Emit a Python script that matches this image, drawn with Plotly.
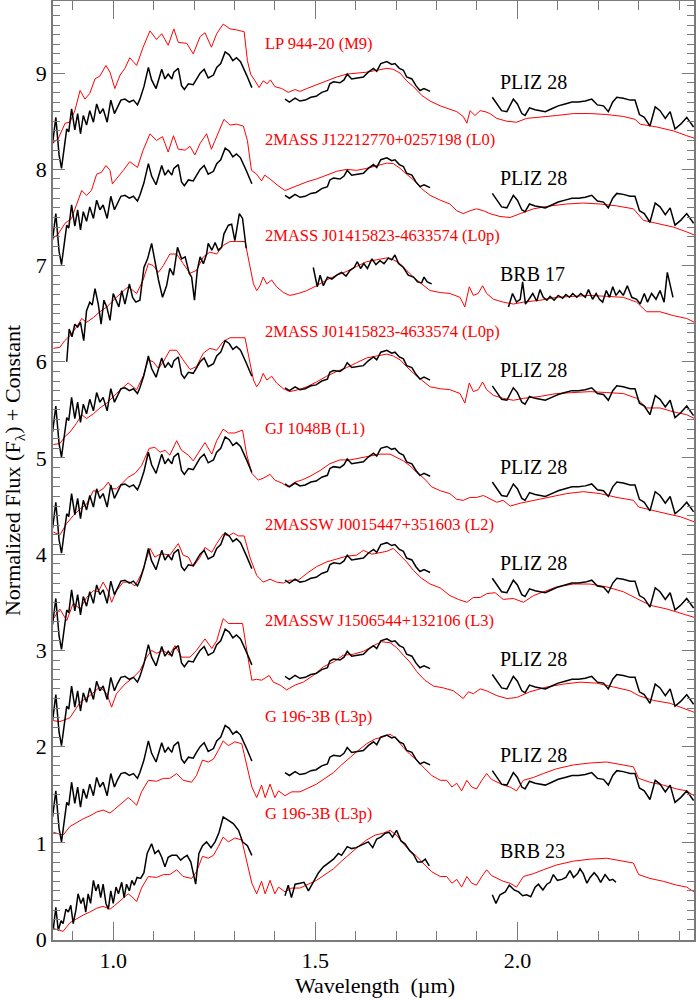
import plotly.graph_objects as go

# Template spectra (normalised flux, before the constant offset)

# --- black: observed objects (J, H, K segments) ---
PLIZ28_J_WL = [.850, .858, .866, .872, .878, .885, .890, .897, .905, .912, .919, .926, .934, .942, .951, .959,
               .967, .975, .985, .994, 1.003, 1.010, 1.019, 1.029, 1.040, 1.050, 1.060, 1.066, 1.076, 1.087,
               1.095, 1.106, 1.120, 1.128, 1.136, 1.145, 1.150, 1.161, 1.169, 1.176, 1.186, 1.198, 1.206,
               1.215, 1.225, 1.235, 1.248, 1.256, 1.266, 1.277, 1.287, 1.296, 1.305, 1.315, 1.330, 1.343]
PLIZ28_J_FL = [.27, .54, .15, .01, .20, .42, .39, .63, .41, .58, .37, .56, .46, .61, .49, .68,
               .58, .63, .49, .72, .58, .65, .72, .73, .70, .72, .67, .73, .86, 1.06,
               .93, .84, 1.04, .94, .99, .94, 1.01, 1.05, .87, .83, .89, .88, .94,
               1.00, 1.04, .95, .98, 1.06, 1.10, 1.22, 1.19, 1.13, 1.16, 1.12, .98, .85]
PLIZ28_H_WL = [1.425, 1.436, 1.450, 1.462, 1.475, 1.489, 1.502, 1.516, 1.530, 1.536, 1.545, 1.561, 1.571,
               1.579, 1.590, 1.604, 1.619, 1.631, 1.644, 1.652, 1.662, 1.677, 1.689, 1.697, 1.708, 1.718,
               1.726, 1.739, 1.749, 1.759, 1.769, 1.784]
PLIZ28_H_FL = [.73, .70, .74, .71, .72, .75, .76, .80, .82, .89, .91, .90, .93,
               .99, .94, .95, .96, 1.01, 1.05, 1.02, 1.10, 1.12, 1.09, 1.10, 1.05, 1.03,
               .96, .94, .87, .82, .84, .81]
PLIZ28_K_WL = [1.938, 1.949, 1.961, 1.974, 1.980, 1.990, 2.000, 2.011, 2.019, 2.030, 2.044, 2.056, 2.069,
               2.085, 2.101, 2.118, 2.135, 2.151, 2.168, 2.184, 2.198, 2.213, 2.225, 2.236, 2.246, 2.262,
               2.279, 2.291, 2.302, 2.314, 2.328, 2.341, 2.353, 2.366, 2.378, 2.390, 2.404, 2.419, 2.436]
PLIZ28_K_FL = [.75, .68, .61, .60, .65, .73, .68, .58, .56, .64, .62, .61, .60,
               .63, .66, .68, .70, .70, .71, .73, .67, .66, .60, .70, .75, .74,
               .72, .72, .57, .54, .45, .65, .61, .53, .60, .42, .47, .54, .44]

BRB17_J_WL = [.885, .891, .898, .905, .912, .919, .927, .934, .942, .948, .955, .963, .970, .977, .984, .992,
              1.000, 1.007, 1.014, 1.021, 1.029, 1.040, 1.048, 1.056, 1.066, 1.076, 1.085, 1.095, 1.103,
              1.112, 1.122, 1.132, 1.140, 1.149, 1.159, 1.169, 1.178, 1.188, 1.194, 1.201, 1.208, 1.215,
              1.223, 1.231, 1.235, 1.244, 1.252, 1.260, 1.268, 1.274, 1.285, 1.293, 1.301, 1.312, 1.320, 1.329]
BRB17_J_FL = [.00, .34, .26, .39, .36, .41, .22, .53, .62, .59, .76, .60, .39, .64, .57, .43,
              .71, .64, .57, .74, .60, .81, .67, .62, .64, .98, 1.07, 1.23, 1.05,
              .85, .67, .79, .97, .90, 1.19, 1.07, 1.09, .92, .88, .64, .95, 1.09,
              1.02, 1.12, 1.23, 1.16, 1.24, 1.16, 1.19, 1.33, 1.42, 1.43, 1.26, 1.54, 1.49, 1.18]
BRB17_H_WL = [1.495, 1.505, 1.512, 1.520, 1.530, 1.541, 1.553, 1.565, 1.576, 1.586, 1.596, 1.604, 1.612,
              1.620, 1.629, 1.640, 1.650, 1.660, 1.670, 1.681, 1.689, 1.697, 1.706, 1.718, 1.730, 1.743,
              1.753, 1.763, 1.769, 1.777, 1.788]
BRB17_H_FL = [.98, .78, .90, .79, .88, .86, .90, .93, .89, .95, .98, 1.04, .97,
              1.02, .97, 1.07, 1.01, 1.05, 1.02, 1.08, 1.06, 1.11, 1.02, .98, .90, .88,
              .83, .82, .88, .83, .81]
BRB17_K_WL = [1.978, 1.988, 1.998, 2.007, 2.013, 2.020, 2.027, 2.038, 2.048, 2.056, 2.064, 2.073, 2.081,
              2.091, 2.101, 2.112, 2.120, 2.129, 2.137, 2.147, 2.157, 2.168, 2.176, 2.186, 2.195, 2.203,
              2.211, 2.220, 2.228, 2.236, 2.244, 2.253, 2.262, 2.272, 2.283, 2.295, 2.304, 2.314, 2.322,
              2.332, 2.343, 2.353, 2.363, 2.371, 2.385]
BRB17_K_FL = [.57, .71, .62, .65, .83, .60, .64, .71, .63, .75, .67, .64, .68,
              .64, .69, .66, .70, .67, .71, .67, .71, .67, .75, .65, .71, .65,
              .62, .74, .67, .78, .69, .74, .69, .79, .67, .65, .60, .71, .62,
              .71, .65, .74, .62, .93, .67]

BRB23_J_WL = [.852, .858, .864, .871, .876, .883, .889, .895, .901, .908, .913, .920, .926, .932, .938, .944,
              .951, .957, .963, .969, .975, .982, .988, .994, 1.000, 1.007, 1.013, 1.021, 1.027, 1.033,
              1.040, 1.046, 1.052, 1.059, 1.068, 1.076, 1.084, 1.095, 1.103, 1.112, 1.120, 1.128, 1.136,
              1.145, 1.157, 1.167, 1.175, 1.183, 1.192, 1.200, 1.204, 1.212, 1.221, 1.231, 1.242, 1.252,
              1.262, 1.272, 1.285, 1.297, 1.310, 1.320, 1.332, 1.343]
BRB23_J_FL = [.11, .33, .09, .19, .16, .31, .28, .35, .16, .31, .47, .37, .43, .28, .47, .37,
              .61, .50, .57, .43, .57, .37, .31, .50, .37, .54, .47, .59, .43, .57,
              .50, .61, .56, .64, .63, .69, .89, .99, .89, .92, .85, .75, .85,
              .87, .87, .82, .85, .87, .80, .66, .57, .89, .97, 1.01, .95, 1.01,
              1.11, 1.27, 1.23, 1.20, 1.13, 1.01, .97, .87]
BRB23_H_WL = [1.425, 1.433, 1.441, 1.450, 1.462, 1.472, 1.483, 1.495, 1.508, 1.520, 1.532, 1.545, 1.557,
              1.565, 1.579, 1.590, 1.601, 1.611, 1.621, 1.631, 1.642, 1.652, 1.662, 1.673, 1.683, 1.691,
              1.701, 1.712, 1.722, 1.733, 1.743, 1.753, 1.763, 1.772, 1.782]
BRB23_H_FL = [.45, .56, .43, .57, .58, .59, .50, .59, .69, .75, .79, .83, .89,
              .87, .96, .94, .95, .97, .99, 1.01, .95, 1.04, 1.06, 1.10, 1.11, 1.06,
              1.13, 1.02, .99, .92, .88, .80, .80, .83, .76]
BRB23_K_WL = [1.938, 1.947, 1.957, 1.970, 1.980, 1.992, 2.003, 2.013, 2.023, 2.033, 2.044, 2.052, 2.063,
              2.073, 2.081, 2.089, 2.099, 2.110, 2.120, 2.130, 2.139, 2.149, 2.155, 2.163, 2.172, 2.180,
              2.190, 2.198, 2.206, 2.217, 2.228, 2.236, 2.244]
BRB23_K_FL = [.46, .37, .46, .49, .56, .51, .49, .45, .46, .44, .54, .57, .51,
              .57, .59, .67, .61, .62, .64, .71, .64, .68, .73, .68, .58, .64,
              .69, .65, .59, .67, .61, .62, .59]

# --- red: spectral standards ---
M9_WL = [.850, .864, .881, .893, .905, .918, .930, .942, .955, .967, .982, .992, 1.004, 1.017, 1.029, 1.041,
         1.058, 1.074, 1.091, 1.107, 1.120, 1.136, 1.150, 1.161, 1.182, 1.198, 1.215, 1.227, 1.243, 1.256,
         1.272, 1.289, 1.305, 1.324, 1.332, 1.340, 1.351, 1.361, 1.371, 1.381, 1.389, 1.400, 1.417, 1.433,
         1.450, 1.462, 1.479, 1.503, 1.528, 1.553, 1.578, 1.602, 1.627, 1.652, 1.677, 1.693, 1.710, 1.726,
         1.743, 1.763, 1.784, 1.809, 1.833, 1.850, 1.866, 1.875, 1.883, 1.895, 1.908, 1.920, 1.932, 1.949,
         1.974, 1.998, 2.023, 2.056, 2.097, 2.139, 2.180, 2.221, 2.262, 2.291, 2.304, 2.345, 2.386, 2.419, 2.448]
M9_FL = [.27, .32, .48, .49, .61, .82, .73, .79, .94, .97, 1.08, 1.01, .84, .98, 1.05, 1.16,
         1.08, 1.27, 1.44, 1.35, 1.41, 1.29, 1.46, 1.32, 1.31, 1.20, 1.38, 1.42, 1.27, 1.41,
         1.51, 1.46, 1.45, 1.43, 1.13, .99, .92, .85, .92, .89, .93, .86, .84, .80,
         .83, .81, .84, .88, .92, .96, .99, 1.00, 1.01, 1.03, 1.05, 1.04, 1.00, .92,
         .86, .77, .71, .66, .62, .60, .55, .48, .61, .56, .61, .60, .58, .53,
         .50, .49, .53, .54, .56, .58, .58, .57, .55, .52, .47, .44, .40, .35, .31]

L0_WL = [.850, .864, .881, .897, .909, .922, .934, .946, .959, .971, .982, .992, .998, 1.008, 1.025, 1.041,
         1.060, 1.074, 1.091, 1.107, 1.122, 1.136, 1.149, 1.161, 1.178, 1.190, 1.202, 1.215, 1.231, 1.243,
         1.256, 1.274, 1.289, 1.305, 1.322, 1.332, 1.342, 1.355, 1.367, 1.375, 1.388, 1.396, 1.408, 1.425,
         1.437, 1.458, 1.479, 1.503, 1.528, 1.553, 1.578, 1.602, 1.627, 1.652, 1.677, 1.693, 1.710, 1.726,
         1.743, 1.763, 1.784, 1.809, 1.833, 1.850, 1.866, 1.883, 1.899, 1.916, 1.932, 1.957, 1.982, 2.007,
         2.040, 2.081, 2.122, 2.163, 2.205, 2.246, 2.287, 2.312, 2.345, 2.386, 2.419, 2.448]
L0_FL = [.28, .33, .44, .49, .63, .78, .73, .78, .95, .97, 1.04, .99, .85, .90, .99, 1.08,
         1.02, 1.20, 1.37, 1.30, 1.34, 1.18, 1.35, 1.21, 1.20, 1.24, 1.15, 1.27, 1.37, 1.21,
         1.34, 1.52, 1.46, 1.47, 1.45, 1.30, .99, .95, .88, .94, .90, .87, .83, .78,
         .80, .83, .87, .90, .94, .98, 1.00, .99, 1.01, 1.04, 1.065, 1.06, 1.01, .95,
         .89, .80, .73, .68, .64, .57, .54, .57, .59, .57, .54, .51, .50, .54,
         .59, .62, .64, .65, .64, .62, .59, .47, .44, .40, .35, .30]

L0P_WL = [.852, .868, .880, .893, .909, .922, .934, .951, .967, .984, 1.008, 1.037, 1.058, 1.074, 1.087,
          1.099, 1.112, 1.124, 1.140, 1.157, 1.173, 1.190, 1.206, 1.223, 1.239, 1.256, 1.272, 1.289, 1.305,
          1.326, 1.337, 1.347, 1.355, 1.363, 1.371, 1.380, 1.392, 1.404, 1.421, 1.437, 1.458, 1.479, 1.503,
          1.528, 1.553, 1.578, 1.602, 1.627, 1.652, 1.677, 1.693, 1.710, 1.726, 1.743, 1.763, 1.784, 1.809,
          1.833, 1.858, 1.870, 1.881, 1.891, 1.903, 1.914, 1.924, 1.941, 1.965, 1.990, 2.015, 2.056, 2.097,
          2.139, 2.180, 2.221, 2.262, 2.295, 2.320, 2.353, 2.386, 2.419, 2.448]
L0P_FL = [.14, .15, .22, .27, .36, .45, .41, .46, .52, .57, .67, .78, .71, .85, 1.02,
          1.00, .93, 1.00, 1.12, 1.12, 1.02, .92, .95, 1.09, 1.14, 1.12, 1.21, 1.25, 1.25,
          1.25, 1.02, .81, .74, .79, .88, .81, .85, .78, .72, .69, .71, .74, .79,
          .85, .90, .94, .99, 1.04, 1.06, 1.08, 1.06, 1.02, .95, .88, .81, .74, .72,
          .71, .67, .57, .78, .69, .71, .79, .71, .65, .62, .60, .62, .64, .67,
          .68, .69, .68, .67, .62, .52, .52, .48, .45, .39]

L1_WL = [.852, .868, .885, .901, .918, .934, .951, .963, .975, .988, .996, 1.008, 1.021, 1.037, 1.054,
         1.070, 1.089, 1.103, 1.116, 1.128, 1.140, 1.157, 1.169, 1.186, 1.198, 1.211, 1.227, 1.244, 1.256,
         1.272, 1.285, 1.301, 1.320, 1.330, 1.343, 1.359, 1.371, 1.388, 1.400, 1.417, 1.433, 1.450, 1.466,
         1.487, 1.512, 1.536, 1.561, 1.586, 1.611, 1.635, 1.660, 1.685, 1.701, 1.718, 1.734, 1.751, 1.771,
         1.788, 1.809, 1.833, 1.850, 1.866, 1.883, 1.899, 1.916, 1.932, 1.949, 1.965, 1.982, 2.007, 2.040,
         2.081, 2.122, 2.163, 2.205, 2.246, 2.287, 2.300, 2.328, 2.370, 2.403, 2.448]
L1_FL = [.23, .20, .32, .40, .47, .52, .66, .65, .68, .75, .68, .68, .73, .80, .84,
         .92, 1.10, 1.11, 1.06, 1.08, 1.03, 1.18, 1.08, 1.03, .97, 1.06, 1.16, 1.04, 1.18,
         1.30, 1.26, 1.26, 1.29, 1.04, .84, .77, .79, .83, .77, .74, .70, .75, .77,
         .81, .87, .94, .98, .98, 1.00, 1.02, 1.04, 1.04, 1.01, .97, .92, .85, .78,
         .70, .66, .63, .57, .56, .59, .59, .61, .58, .54, .56, .50, .53, .56,
         .59, .63, .65, .63, .59, .56, .49, .46, .42, .39, .32]

L2_WL = [.852, .868, .885, .901, .918, .934, .951, .963, .975, .988, .996, 1.008, 1.025, 1.041, 1.054,
         1.070, 1.091, 1.103, 1.116, 1.128, 1.140, 1.161, 1.173, 1.186, 1.198, 1.215, 1.227, 1.244, 1.256,
         1.272, 1.285, 1.297, 1.310, 1.324, 1.338, 1.355, 1.371, 1.388, 1.404, 1.421, 1.437, 1.458, 1.479,
         1.503, 1.528, 1.553, 1.578, 1.602, 1.619, 1.640, 1.660, 1.677, 1.693, 1.710, 1.726, 1.743, 1.763,
         1.784, 1.809, 1.833, 1.854, 1.875, 1.891, 1.908, 1.924, 1.945, 1.965, 1.990, 2.015, 2.040, 2.064,
         2.097, 2.139, 2.180, 2.221, 2.262, 2.295, 2.328, 2.370, 2.411, 2.448]
L2_FL = [.33, .43, .31, .49, .43, .55, .62, .61, .71, .61, .50, .62, .71, .71, .67,
         .80, 1.06, .97, 1.00, 1.00, .99, 1.11, .99, .97, .87, .97, 1.07, 1.02, 1.11,
         1.21, 1.19, 1.22, 1.19, 1.19, .97, .78, .71, .74, .71, .70, .73, .73, .80,
         .87, .92, .95, .98, .99, 1.04, 1.00, 1.02, 1.03, 1.06, .99, .92, .83, .75,
         .69, .65, .57, .53, .50, .55, .55, .59, .60, .53, .54, .50, .57, .61,
         .66, .69, .69, .66, .61, .54, .47, .43, .38, .33]

L3_WL = [.852, .868, .893, .918, .942, .967, .984, .996, 1.008, 1.029, 1.050, 1.066, 1.083, 1.095, 1.107,
         1.124, 1.139, 1.153, 1.169, 1.190, 1.206, 1.227, 1.244, 1.256, 1.272, 1.285, 1.301, 1.320, 1.332,
         1.343, 1.355, 1.367, 1.386, 1.396, 1.413, 1.429, 1.450, 1.470, 1.495, 1.520, 1.545, 1.569, 1.594,
         1.619, 1.644, 1.664, 1.685, 1.701, 1.718, 1.734, 1.751, 1.771, 1.792, 1.817, 1.842, 1.858, 1.866,
         1.879, 1.891, 1.908, 1.924, 1.949, 1.974, 1.998, 2.031, 2.073, 2.114, 2.155, 2.196, 2.238, 2.279,
         2.300, 2.337, 2.378, 2.419, 2.448]
L3_FL = [.27, .26, .30, .46, .53, .62, .55, .41, .55, .65, .72, .79, .93, 1.00, .97,
         1.00, .95, 1.05, .93, .93, 1.00, 1.12, 1.02, 1.10, 1.33, 1.28, 1.28, 1.28, .96,
         .69, .70, .69, .74, .67, .64, .59, .64, .67, .74, .83, .88, .95, .96,
         .99, 1.05, 1.09, 1.08, 1.03, .95, .88, .78, .69, .63, .61, .58, .53, .50,
         .57, .55, .60, .58, .53, .50, .51, .57, .62, .65, .67, .66, .62, .58,
         .53, .48, .45, .39, .34]

L3P_WL = [.852, .876, .893, .909, .926, .942, .959, .975, .992, 1.004, 1.021, 1.037, 1.046, 1.058, 1.070,
          1.087, 1.107, 1.124, 1.140, 1.157, 1.173, 1.194, 1.206, 1.221, 1.235, 1.248, 1.260, 1.272, 1.285,
          1.301, 1.318, 1.330, 1.343, 1.355, 1.367, 1.376, 1.388, 1.400, 1.409, 1.425, 1.442, 1.462, 1.483,
          1.503, 1.524, 1.545, 1.565, 1.586, 1.606, 1.627, 1.648, 1.668, 1.685, 1.701, 1.718, 1.734, 1.751,
          1.771, 1.788, 1.809, 1.825, 1.838, 1.850, 1.862, 1.875, 1.887, 1.899, 1.912, 1.924, 1.936, 1.949,
          1.965, 1.982, 1.998, 2.015, 2.040, 2.064, 2.097, 2.139, 2.180, 2.221, 2.262, 2.287, 2.300, 2.328,
          2.361, 2.394, 2.419, 2.448]
L3P_FL = [.11, .08, .17, .21, .25, .28, .32, .34, .31, .35, .41, .47, .44, .39, .53,
          .65, .64, .67, .67, .72, .65, .63, .70, .86, .84, .87, .96, 1.06, 1.01,
          1.05, 1.03, .82, .58, .47, .60, .47, .61, .47, .54, .49, .53, .53, .57,
          .61, .67, .73, .81, .89, .96, 1.03, 1.08, 1.10, 1.13, 1.08, .99, .92, .86,
          .77, .70, .65, .65, .58, .62, .54, .65, .58, .56, .65, .72, .66, .63,
          .60, .58, .54, .65, .68, .72, .77, .81, .83, .84, .81, .79, .67, .63,
          .60, .56, .54, .46]

# panels from top to bottom
OFFSETS = [8, 7, 6, 5, 4, 3, 2, 1, 0]
RED_KEYS = ["M9", "L0", "L0p", "L0p", "L1", "L2", "L3", "L3p", "L3p"]
RED_LABELS = ["LP 944-20 (M9)", "2MASS J12212770+0257198 (L0)", "2MASS J01415823-4633574 (L0p)",
              "2MASS J01415823-4633574 (L0p)", "GJ 1048B (L1)", "2MASSW J0015447+351603 (L2)",
              "2MASSW J1506544+132106 (L3)", "G 196-3B (L3p)", "G 196-3B (L3p)"]
BLACK_KEYS = ["PLIZ 28", "PLIZ 28", "BRB 17", "PLIZ 28", "PLIZ 28", "PLIZ 28", "PLIZ 28", "PLIZ 28", "BRB 23"]


def join_segments(*segments):
    """Concatenate band segments with None gaps so the line breaks."""
    wl, fl = [], []
    for w, f in segments:
        if wl:
            wl.append(None)
            fl.append(None)
        wl += w
        fl += f
    return wl, fl


RED = {
    "M9": (M9_WL, M9_FL), "L0": (L0_WL, L0_FL), "L0p": (L0P_WL, L0P_FL), "L1": (L1_WL, L1_FL),
    "L2": (L2_WL, L2_FL), "L3": (L3_WL, L3_FL), "L3p": (L3P_WL, L3P_FL),
}
BLACK = {
    "PLIZ 28": join_segments((PLIZ28_J_WL, PLIZ28_J_FL), (PLIZ28_H_WL, PLIZ28_H_FL), (PLIZ28_K_WL, PLIZ28_K_FL)),
    "BRB 17": join_segments((BRB17_J_WL, BRB17_J_FL), (BRB17_H_WL, BRB17_H_FL), (BRB17_K_WL, BRB17_K_FL)),
    "BRB 23": join_segments((BRB23_J_WL, BRB23_J_FL), (BRB23_H_WL, BRB23_H_FL), (BRB23_K_WL, BRB23_K_FL)),
}

FONT = "Liberation Serif, Times New Roman, serif"
AXIS_GREY = "#7a7a7a"

fig = go.Figure()
annotations = []

for off, rkey, rlabel, bkey in zip(OFFSETS, RED_KEYS, RED_LABELS, BLACK_KEYS):
    rw, rf = RED[rkey]
    fig.add_trace(go.Scatter(
        x=rw, y=[v + off for v in rf], mode="lines",
        line=dict(color="#ff0000", width=1), hoverinfo="skip",
    ))
    bw, bf = BLACK[bkey]
    fig.add_trace(go.Scatter(
        x=bw, y=[None if v is None else v + off for v in bf], mode="lines",
        line=dict(color="#000000", width=1.5), connectgaps=False, hoverinfo="skip",
    ))
    annotations.append(dict(
        x=1.3705, y=off + 1.31, text=rlabel, showarrow=False, xanchor="left", yanchor="middle",
        font=dict(color="#ff0000", size=16.5, family=FONT),
    ))
    annotations.append(dict(
        x=1.952, y=off + 0.91, text=bkey, showarrow=False, xanchor="left", yanchor="middle",
        font=dict(color="#000000", size=20, family=FONT),
    ))

# axis titles as paper annotations so the plot frame keeps its place
annotations.append(dict(
    xref="paper", yref="paper", x=0.502, y=-0.048, text="Wavelength  (\u00b5m)",
    showarrow=False, xanchor="center", yanchor="middle", font=dict(size=22, family=FONT, color="black"),
))
annotations.append(dict(
    xref="paper", yref="paper", x=-0.0615, y=0.5, text="Normalized Flux (F<sub>\u03bb</sub>) + Constant",
    textangle=-90, showarrow=False, xanchor="center", yanchor="middle",
    font=dict(size=22, family=FONT, color="black"),
))

fig.update_layout(
    width=700, height=1000,
    paper_bgcolor="white", plot_bgcolor="white",
    margin=dict(l=53, r=6, t=1, b=60, autoexpand=False),
    showlegend=False,
    font=dict(family=FONT, size=22, color="black"),
    annotations=annotations,
    xaxis=dict(
        range=[0.851, 2.437], tickvals=[1.0, 1.5, 2.0], ticktext=["1.0", "1.5", "2.0"],
        ticks="inside", ticklen=18, tickcolor=AXIS_GREY, tickwidth=1,
        minor=dict(dtick=0.1, tick0=0.0, ticks="inside", ticklen=9, tickcolor=AXIS_GREY, showgrid=False),
        showline=True, linecolor=AXIS_GREY, linewidth=1.5, mirror="allticks",
        showgrid=False, zeroline=False, automargin=False,
        tickfont=dict(size=22, family=FONT, color="black"),
    ),
    yaxis=dict(
        range=[-0.01, 9.75], tickvals=list(range(10)),
        ticks="inside", ticklen=12, tickcolor=AXIS_GREY, tickwidth=1,
        minor=dict(dtick=0.1, tick0=0.0, ticks="inside", ticklen=7, tickcolor=AXIS_GREY, showgrid=False),
        showline=True, linecolor=AXIS_GREY, linewidth=1.5, mirror="allticks",
        showgrid=False, zeroline=False, automargin=False,
        tickfont=dict(size=22, family=FONT, color="black"),
    ),
)

# the page's default body margin would shift the figure by 8 px
fig.write_html(
    "out.html",
    config={"displayModeBar": False},
    post_script="document.body.style.margin = '0';",
)
